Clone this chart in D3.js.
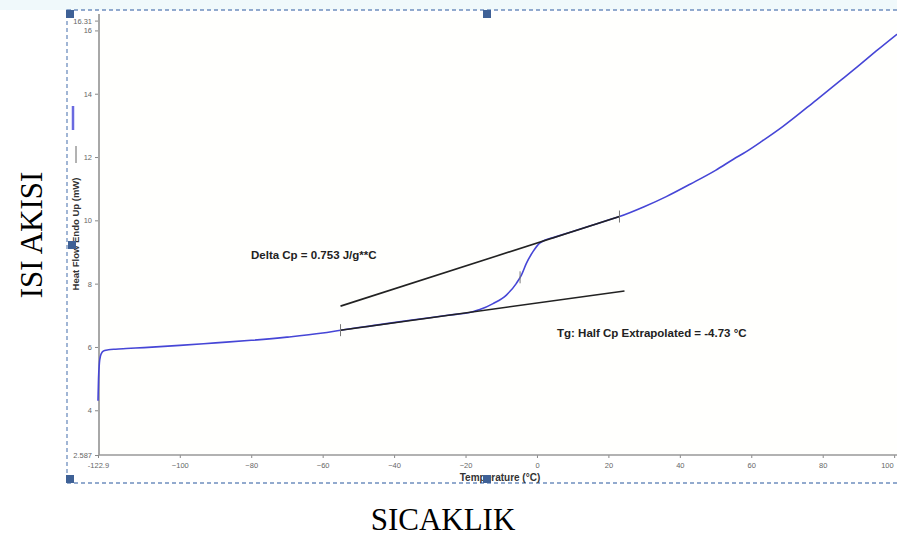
<!DOCTYPE html>
<html><head><meta charset="utf-8">
<script src="https://cdn.jsdelivr.net/npm/d3@7"></script>
<style>body{margin:0;background:#fff}svg{display:block}</style>
</head><body>
<svg id="c" width="897" height="536"></svg>
<script>
// ---- data ----
const temps = [-122.9,-122.75,-122.5,-122.2,-121.7,-121,-120,-118,-115,-110,-100,-90,-80,-70,-60,-55,-45,-35,-25,-18,-16,-12.3,-8.56,-5.76,-4.36,-2.97,-1.12,0.76,2.15,5,10,15,20,23.1,30,36.2,43,50,55,58.6,63,68.8,78.2,85,90,95,100.8];
const heatFlow = [4.3,5.0,5.5,5.72,5.84,5.89,5.91,5.93,5.95,5.98,6.05,6.13,6.21,6.31,6.44,6.53,6.69,6.85,7.0,7.11,7.18,7.37,7.64,8.01,8.27,8.64,9.01,9.28,9.37,9.47,9.65,9.83,10.01,10.12,10.43,10.75,11.15,11.58,11.93,12.17,12.5,12.96,13.8,14.42,14.88,15.35,15.88];
const upperTangentT = [-55, 23.1];
const upperTangentV = [7.29, 10.12];
const lowerTangentT = [-55, 24.5];
const lowerTangentV = [6.53, 7.77];
const tgTemp = -4.73, tgHeat = 8.2;
const xTicks = [-122.9,-100,-80,-60,-40,-20,0,20,40,60,80,100];
const yTicks = [2.587,4,6,8,10,12,14,16,16.31];
const texts = {
  deltaCp: "Delta Cp = 0.753 J/g**C",
  tg: "Tg: Half Cp Extrapolated = -4.73 °C",
  xTitle: "Temperature (°C)",
  yTitle: "Heat Flow Endo Up (mW)",
  outerY: "ISI AKISI",
  outerX: "SICAKLIK"
};

const svg = d3.select("#c");
const x = d3.scaleLinear().domain([-122.9, 100.8]).range([98, 897]);
const y = d3.scaleLinear().domain([2.587, 16.31]).range([455, 20.6]);

// backgrounds
svg.append("rect").attr("x",0).attr("y",0).attr("width",897).attr("height",10).attr("fill","#f0f9fb");
svg.append("rect").attr("x",99).attr("y",14).attr("width",798).attr("height",441).attr("fill","#fffffd");

// frame (dashed)
svg.append("rect").attr("x",67).attr("y",10).attr("width",840).attr("height",473)
  .attr("fill","none").attr("stroke","#6f8fbf").attr("stroke-width",1.3).attr("stroke-dasharray","4,3");

// axes
const fmtY = d => (d===2.587?"2.587":d===16.31?"16.31":d3.format("d")(d));
const yAxis = svg.append("g").attr("transform","translate(99,0)")
  .call(d3.axisLeft(y).tickValues(yTicks).tickFormat(fmtY).tickSize(4).tickSizeOuter(0));
yAxis.select(".domain").remove();
yAxis.selectAll("text").attr("font-family","Liberation Sans, Arial, sans-serif").attr("font-size",7.5).attr("fill","#666");
yAxis.selectAll("line").attr("stroke","#888");
svg.append("line").attr("x1",99).attr("x2",99).attr("y1",14).attr("y2",455).attr("stroke","#a8a8a8").attr("stroke-width",2);

const fmtX = d => (d===-122.9?"-122.9":d3.format("d")(d));
const xAxis = svg.append("g").attr("transform","translate(0,455)")
  .call(d3.axisBottom(x).tickValues(xTicks).tickFormat(fmtX).tickSize(3).tickSizeOuter(0));
xAxis.select(".domain").remove();
xAxis.selectAll("text").attr("font-family","Liberation Sans, Arial, sans-serif").attr("font-size",7.5).attr("fill","#666").attr("dy","0.9em");
xAxis.selectAll("text").filter(d=>d===100).attr("text-anchor","end").attr("dx","-1");
xAxis.selectAll("line").attr("stroke","#888");
svg.append("line").attr("x1",99).attr("x2",897).attr("y1",455).attr("y2",455).attr("stroke","#999").attr("stroke-width",1.5);

// axis titles
svg.append("text").attr("x",500).attr("y",481).attr("text-anchor","middle")
  .attr("font-family","Liberation Sans, Arial, sans-serif").attr("font-weight","bold").attr("font-size",10).attr("fill","#333").text(texts.xTitle);
svg.append("text").attr("transform","translate(79,234) rotate(-90)").attr("text-anchor","middle")
  .attr("font-family","Liberation Sans, Arial, sans-serif").attr("font-weight","bold").attr("font-size",9.5).attr("fill","#333").text(texts.yTitle);
svg.append("line").attr("x1",76).attr("x2",76).attr("y1",146).attr("y2",163).attr("stroke","#666").attr("stroke-width",1);
// legend stub
svg.append("line").attr("x1",73).attr("x2",73).attr("y1",106).attr("y2",130).attr("stroke","#6a6ae0").attr("stroke-width",2.5);

// curve
const pts = temps.map((t,i)=>[t,heatFlow[i]]);
svg.append("path").datum(pts)
  .attr("d", d3.line().x(d=>x(d[0])).y(d=>y(d[1])).curve(d3.curveMonotoneX))
  .attr("fill","none").attr("stroke","#4646d6").attr("stroke-width",1.6);

// tangents
const tan = (T,V) => T.map((t,i)=>[t,V[i]]);
[tan(upperTangentT,upperTangentV), tan(lowerTangentT,lowerTangentV)].forEach(seg=>{
  svg.append("path").datum(seg).attr("d", d3.line().x(d=>x(d[0])).y(d=>y(d[1])))
    .attr("fill","none").attr("stroke","#222").attr("stroke-width",1.6);
});
// tick marks
const marks = [[lowerTangentT[0],lowerTangentV[0]],[upperTangentT[1],upperTangentV[1]],[tgTemp,tgHeat]];
marks.forEach(m=>{
  svg.append("line").attr("x1",x(m[0])).attr("x2",x(m[0])).attr("y1",y(m[1])-6).attr("y2",y(m[1])+6)
    .attr("stroke","#777").attr("stroke-width",1);
});

// annotations
svg.append("text").attr("x",251).attr("y",259).attr("font-family","Liberation Sans, Arial, sans-serif")
  .attr("font-weight","bold").attr("font-size",11.5).attr("fill","#222").text(texts.deltaCp);
svg.append("text").attr("x",557).attr("y",337).attr("font-family","Liberation Sans, Arial, sans-serif")
  .attr("font-weight","bold").attr("font-size",11.5).attr("fill","#222").text(texts.tg);

// handles
[[70,14],[487,14],[72,245],[70,479],[487,479]].forEach(h=>{
  svg.append("rect").attr("x",h[0]-4).attr("y",h[1]-4).attr("width",8).attr("height",8).attr("fill","#3f6196");
});

// outer labels
svg.append("text").attr("transform","translate(42,235) rotate(-90)").attr("text-anchor","middle")
  .attr("font-family","Liberation Serif, Times New Roman, serif").attr("font-size",31).attr("fill","#000").text(texts.outerY);
svg.append("text").attr("x",443).attr("y",530).attr("text-anchor","middle")
  .attr("font-family","Liberation Serif, Times New Roman, serif").attr("font-size",31).attr("fill","#000").text(texts.outerX);
</script>
</body></html>
